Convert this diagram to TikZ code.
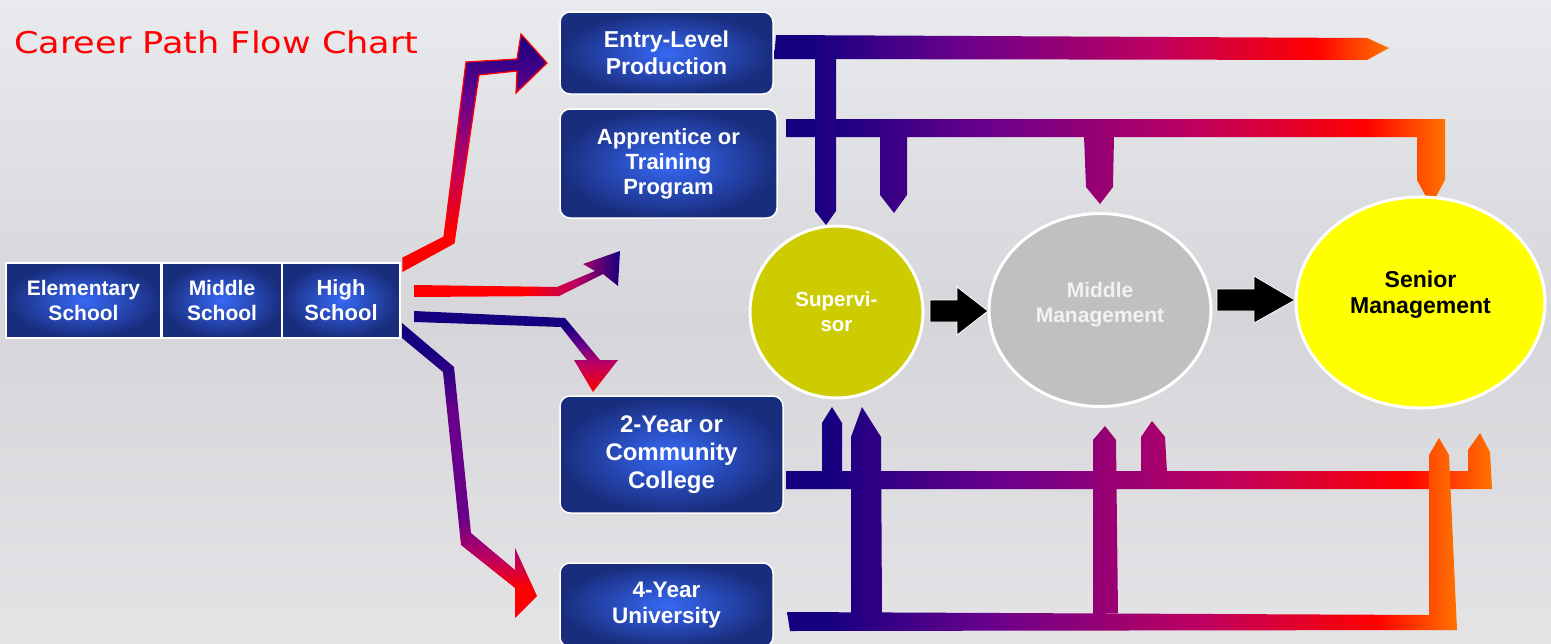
\documentclass[tikz,border=0pt]{standalone}
\usepackage{graphicx}
\usepackage{fontspec}
\setmainfont{Liberation Sans}
\newfontfamily\titlefont{DejaVu Sans}
\usetikzlibrary{shapes.geometric}
\definecolor{cNavy}{RGB}{22,0,128}
\definecolor{cPurple}{RGB}{105,0,140}
\definecolor{cMagenta}{RGB}{190,0,95}
\definecolor{cRed}{RGB}{255,0,0}
\definecolor{cOrange}{RGB}{255,115,0}
\definecolor{boxIn}{RGB}{55,105,245}
\definecolor{boxOut}{RGB}{25,45,125}
\definecolor{supCol}{RGB}{204,204,0}
\definecolor{midCol}{RGB}{192,192,192}
\definecolor{senCol}{RGB}{255,255,0}
\definecolor{bgTop}{RGB}{232,234,238}
\definecolor{bgMid}{RGB}{214,214,218}
\definecolor{bgBot}{RGB}{228,228,231}
\definecolor{midText}{RGB}{242,242,242}
\pgfdeclarehorizontalshading{barshade}{100bp}{color(0bp)=(cNavy); color(25bp)=(cNavy); color(28bp)=(cNavy); color(40bp)=(cPurple); color(56bp)=(cMagenta); color(69bp)=(cRed); color(75bp)=(cOrange); color(100bp)=(cOrange)}
\pgfdeclarehorizontalshading{rednavy}{100bp}{color(0bp)=(cRed); color(25bp)=(cRed); color(52bp)=(cRed); color(64bp)=(cMagenta); color(75bp)=(cNavy); color(100bp)=(cNavy)}
\pgfdeclareverticalshading{ashade}{100bp}{color(0bp)=(cRed); color(25bp)=(cRed); color(33bp)=(cRed); color(47bp)=(cMagenta); color(61bp)=(cPurple); color(75bp)=(cNavy); color(100bp)=(cNavy)}
\pgfdeclareverticalshading{cshade}{100bp}{color(0bp)=(cRed); color(25bp)=(cRed); color(42bp)=(cMagenta); color(54bp)=(cPurple); color(66bp)=(cNavy); color(75bp)=(cNavy); color(100bp)=(cNavy)}
\pgfdeclareverticalshading{dshade}{100bp}{color(0bp)=(cRed); color(25bp)=(cRed); color(30bp)=(cRed); color(35bp)=(cMagenta); color(42bp)=(cPurple); color(60bp)=(cPurple); color(70bp)=(cNavy); color(75bp)=(cNavy); color(100bp)=(cNavy)}
\tikzset{
  bluebox/.style={rectangle, rounded corners=10pt, draw=white, line width=1.5pt,
    inner color=boxIn, outer color=boxOut, text=white, align=center,
    inner sep=0pt, outer sep=0pt},
  schoolbox/.style={rectangle, draw=white, line width=2pt,
    inner color=boxIn, outer color=boxOut, text=white, align=center,
    inner sep=0pt, outer sep=0pt, minimum height=75pt},
  oval/.style={ellipse, draw=white, line width=3pt, inner sep=0pt},
  ovaltext/.style={align=center, inner sep=0pt, font=\bfseries\fontsize{21}{25}\selectfont},
  blackarrow/.style={fill=black, draw=white, line width=0.8pt},
}
\begin{document}
\begin{tikzpicture}[x=1pt, y=-1pt]
\useasboundingbox (0,0) rectangle (1551,643);
% background
\shade[top color=bgTop, bottom color=bgBot, middle color=bgMid] (0,0) rectangle (1551,643);

% title
\node[anchor=base west, inner sep=0pt, text=red, font=\titlefont\fontsize{30}{36}\selectfont]
  (title) at (14,53) {\scalebox{1.17}[1]{Career Path Flow Chart}};

% school boxes
\node[schoolbox, minimum width=155pt, font=\bfseries\fontsize{21}{25}\selectfont] (elem) at (83.5,300.5) {Elementary\\School};
\node[schoolbox, minimum width=120pt, font=\bfseries\fontsize{21}{25}\selectfont] (mids) at (222,300.5) {Middle\\School};
\node[schoolbox, minimum width=118pt, font=\bfseries\fontsize{22}{25}\selectfont] (high) at (341,300.5) {High\\School};

% path boxes
\node[bluebox, minimum width=213pt, minimum height=82pt, font=\bfseries\fontsize{23}{27}\selectfont] (entry) at (666.5,53) {Entry-Level\\Production};
\node[bluebox, minimum width=217pt, minimum height=109pt, font=\bfseries\fontsize{22}{25}\selectfont] (appr) at (668.5,163.5) {Apprentice or\\Training\\Program};
\node[bluebox, minimum width=223pt, minimum height=117pt, font=\bfseries\fontsize{24}{28}\selectfont] (cc) at (671.5,454.5) {2-Year or\\Community\\College};
\node[bluebox, minimum width=213pt, minimum height=84pt, font=\bfseries\fontsize{22.5}{26}\selectfont] (univ) at (666.5,605) {4-Year\\University};

% arrows from high school
\shadedraw[shading=ashade, draw=red, line width=1.2pt]
  (403,258) -- (444,237) -- (466,62) -- (517,59) -- (521,34) -- (547,63)
  -- (516,93) -- (517,71) -- (479,75) -- (454,243) -- (403,271) -- cycle;
\shade[shading=rednavy]
  (414,285) -- (557,287) -- (595,271) -- (583,264) -- (620,251) -- (618,286)
  -- (603,274) -- (559,296) -- (414,297) -- cycle;
\shade[shading=cshade]
  (414,311) -- (565,318) -- (600,360) -- (618,360) -- (593,392) -- (574,360)
  -- (587,360) -- (561,327) -- (414,322) -- cycle;
\shade[shading=dshade]
  (402,323) -- (454,367) -- (471,533) -- (515,570) -- (515,548) -- (537,596)
  -- (515,618) -- (515,588) -- (461,545) -- (443,372) -- (402,338) -- cycle;

% top bars
\shade[shading=barshade]
  (786,119) -- (1445,119) -- (1445,180) -- (1431,206) -- (1417,180) -- (1417,137) -- (786,137) -- cycle
  (880,136) -- (907,136) -- (907,195) -- (894,213) -- (880,195) -- cycle
  (1084,136) -- (1114,136) -- (1113,187) -- (1100,204) -- (1086,187) -- cycle;
\shade[shading=barshade]
  (776,35) -- (1367,38) -- (1389,48) -- (1367,60) -- (774,59) -- cycle
  (815,58) -- (836,58) -- (836,211) -- (826,225) -- (815,211) -- cycle;

% bottom bars
\shade[shading=barshade]
  (786,471) -- (1468,471) -- (1468,450) -- (1480,433) -- (1490,452) -- (1492,489) -- (786,489) -- cycle
  (822,472) -- (822,423) -- (832,407) -- (842,423) -- (842,472) -- cycle
  (1141,472) -- (1141,437) -- (1152,421) -- (1165,437) -- (1167,472) -- cycle;
\shade[shading=barshade]
  (787,612) -- (1429,615) -- (1429,455) -- (1439,438) -- (1449,455) -- (1457,630) -- (790,631) -- cycle
  (851,613) -- (851,437) -- (862,407) -- (881,437) -- (882,613) -- cycle
  (1093,613) -- (1093,440) -- (1105,426) -- (1116,440) -- (1118,613) -- cycle;

% ellipses
\node[oval, fill=supCol, minimum width=173pt, minimum height=172pt] (sup) at (836.5,312) {};
\node[oval, fill=midCol, minimum width=222pt, minimum height=193pt] (mid) at (1100,310) {};
\node[oval, fill=senCol, minimum width=249pt, minimum height=211pt] (sen) at (1420.5,302.5) {};
\node[ovaltext, text=white, font=\bfseries\fontsize{20.5}{25}\selectfont] (suptxt) at (sup.center) {Supervi-\\sor};
\node[ovaltext, text=midText, yshift=5pt] (midtxt) at (mid.center) {Middle\\Management};
\node[ovaltext, text=black, yshift=8pt, font=\bfseries\fontsize{23}{26.5}\selectfont] (sentxt) at (sen.center) {Senior\\Management};

% black arrows
\draw[blackarrow] (930,300) -- (957,300) -- (957,287) -- (988,311) -- (957,335) -- (957,322) -- (930,322) -- cycle;
\draw[blackarrow] (1217,289) -- (1254,289) -- (1254,276) -- (1295,300) -- (1254,323) -- (1254,311) -- (1217,311) -- cycle;
\end{tikzpicture}
\end{document}
